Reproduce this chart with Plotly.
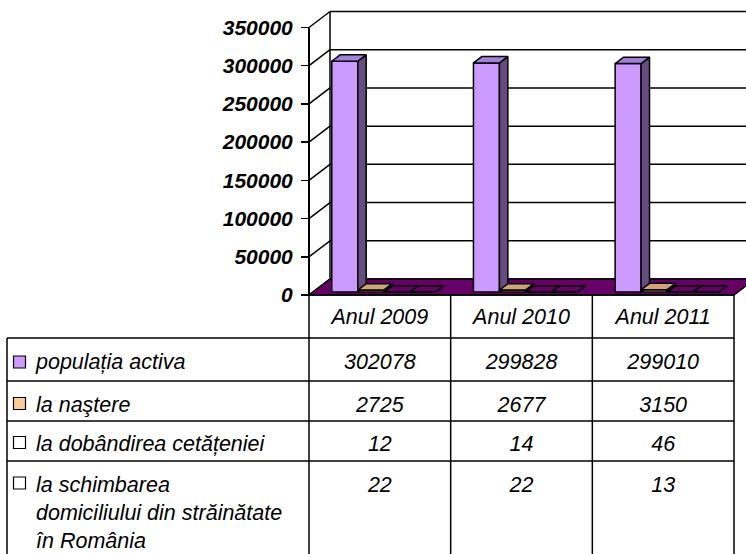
import plotly.graph_objects as go

# ---------------- data ----------------
categories = ["Anul 2009", "Anul 2010", "Anul 2011"]
series_names = [
    "populația activa",
    "la naştere",
    "la dobândirea cetățeniei",
    "la schimbarea<br>domiciliului din străinătate<br>în România",
]
populatia_activa = [302078, 299828, 299010]
la_nastere = [2725, 2677, 3150]
la_dobandire = [12, 14, 46]
la_schimbare = [22, 22, 13]
y_tick_values = [0, 50000, 100000, 150000, 200000, 250000, 300000, 350000]
y_tick_labels = ["0", "50000", "100000", "150000", "200000", "250000", "300000", "350000"]

series_values = [populatia_activa, la_nastere, la_dobandire, la_schimbare]

# ---------------- styles / layout constants ----------------
W, H = 746, 554
X0 = 309.0            # px of front-plane category start
CW = 141.67           # px per category
Y0 = 295.0            # px of value 0 on the front plane
PXV = 267.5 / 350000  # px per value unit
DX = 21.0 / CW        # wall depth, x units
DY = 16.0 / PXV       # wall depth, value units
GAP = 19.0 / CW
BW = 26.0 / CW
F0, F1 = 0.18, 0.58   # bar depth span (fraction of wall depth)
YMAX = y_tick_values[-1]
NCAT = len(categories)

FONT = "Liberation Sans, Arial, sans-serif"
front_colors = ["#CC99FF", "#FFCC99", "rgba(0,0,0,0)", "rgba(0,0,0,0)"]
side_colors = ["#664C80", "#806650", None, None]
top_colors = ["#A47FDB", "#CCA37A", None, None]
legend_colors = ["#CC99FF", "#FFCC99", "#FFFFFF", "#FFFFFF"]
LW = 1.5

fig = go.Figure()

# ---------------- walls and floor (shapes, below bars) ----------------
shapes = []
for v in y_tick_values:
    shapes.append(dict(type="line", xref="x", yref="y", layer="below",
                       x0=DX, y0=v + DY, x1=NCAT + DX, y1=v + DY,
                       line=dict(color="black", width=LW)))
    shapes.append(dict(type="line", xref="x", yref="y", layer="below",
                       x0=0, y0=v, x1=DX, y1=v + DY,
                       line=dict(color="black", width=LW)))
shapes.append(dict(type="line", xref="x", yref="y", layer="below",
                   x0=DX, y0=DY, x1=DX, y1=YMAX + DY,
                   line=dict(color="black", width=LW)))
shapes.append(dict(type="line", xref="x", yref="y", layer="below",
                   x0=0, y0=0, x1=0, y1=YMAX,
                   line=dict(color="black", width=2)))
floor_path = "M 0,0 L {a},0 L {b},{d} L {c},{d} Z".format(a=NCAT, b=NCAT + DX, c=DX, d=DY)
shapes.append(dict(type="path", xref="x", yref="y", layer="below", path=floor_path,
                   fillcolor="#660066", line=dict(color="black", width=LW)))


def P(x, v, f):
    return x + f * DX, v + f * DY


# ---------------- bars: front faces ----------------
for s, vals in enumerate(series_values):
    centers = [c + GAP + (s + 0.5) * BW + F0 * DX for c in range(NCAT)]
    fig.add_trace(go.Bar(
        x=centers, y=vals, base=F0 * DY, width=BW,
        marker=dict(color=front_colors[s], line=dict(color="black", width=LW)),
        xaxis="x", yaxis="y", hoverinfo="skip", showlegend=False))

# ---------------- bars: side and top faces ----------------
for s, vals in enumerate(series_values):
    side_x, side_y, top_x, top_y = [], [], [], []
    for c, v in enumerate(vals):
        x0 = c + GAP + s * BW
        x1 = x0 + BW
        for (xx, vv, ff) in [(x1, 0, F0), (x1, 0, F1), (x1, v, F1), (x1, v, F0), (x1, 0, F0)]:
            px, py = P(xx, vv, ff)
            side_x.append(px); side_y.append(py)
        side_x.append(None); side_y.append(None)
        for (xx, vv, ff) in [(x0, v, F0), (x1, v, F0), (x1, v, F1), (x0, v, F1), (x0, v, F0)]:
            px, py = P(xx, vv, ff)
            top_x.append(px); top_y.append(py)
        top_x.append(None); top_y.append(None)
    for xs, ys, col in [(side_x, side_y, side_colors[s]), (top_x, top_y, top_colors[s])]:
        fig.add_trace(go.Scatter(
            x=xs, y=ys, mode="lines",
            fill="toself" if col else "none",
            fillcolor=col if col else "rgba(0,0,0,0)",
            line=dict(color="black", width=LW),
            xaxis="x", yaxis="y", hoverinfo="skip", showlegend=False))

# ---------------- data table (second axes in px units) ----------------
LEFT = 7.0
col_edges = [X0 + i * CW for i in range(NCAT + 1)]
row_edges = [295.0, 338.0, 381.0, 421.0, 461.0, 556.0]
header_text_y = 316.0
row_text_y = [361.5, 404.0, 443.0, 484.7]   # cap-middle targets of first lines
square_y = [362.0, 403.5, 442.5, 483.0]
FS = 21.5

lx, ly = [], []
for yy in row_edges[1:-1]:
    lx += [LEFT, col_edges[-1], None]; ly += [yy, yy, None]
lx += [col_edges[0], col_edges[-1], None]; ly += [row_edges[0], row_edges[0], None]
for xx in col_edges:
    lx += [xx, xx, None]; ly += [row_edges[0], row_edges[-1], None]
lx += [LEFT, LEFT, None]; ly += [row_edges[1], row_edges[-1], None]
fig.add_trace(go.Scatter(x=lx, y=ly, mode="lines", line=dict(color="black", width=LW),
                         xaxis="x2", yaxis="y2", hoverinfo="skip", showlegend=False))

col_centers = [(col_edges[i] + col_edges[i + 1]) / 2 for i in range(NCAT)]
fig.add_trace(go.Scatter(
    x=col_centers, y=[header_text_y + 0.108 * FS] * NCAT, mode="text", text=categories,
    textposition="middle center",
    textfont=dict(family=FONT, size=FS, color="black", style="italic"),
    xaxis="x2", yaxis="y2", hoverinfo="skip", showlegend=False))

nlines = [n.count("<br>") + 1 for n in series_names]
label_y = [row_text_y[i] + 0.108 * FS + (nlines[i] - 1) * 1.3 * FS / 2 for i in range(4)]
fig.add_trace(go.Scatter(
    x=[36.0] * 4, y=label_y, mode="text", text=series_names,
    textposition="middle right",
    textfont=dict(family=FONT, size=FS, color="black", style="italic"),
    xaxis="x2", yaxis="y2", hoverinfo="skip", showlegend=False))

fig.add_trace(go.Scatter(
    x=[19.5] * 4, y=square_y, mode="markers",
    marker=dict(symbol="square", size=12, color=legend_colors,
                line=dict(color="black", width=1.2)),
    xaxis="x2", yaxis="y2", hoverinfo="skip", showlegend=False))

vx, vy, vt = [], [], []
for r, vals in enumerate(series_values):
    for c, v in enumerate(vals):
        vx.append(col_centers[c]); vy.append(row_text_y[r] + 0.108 * FS); vt.append(str(v))
fig.add_trace(go.Scatter(
    x=vx, y=vy, mode="text", text=vt, textposition="middle center",
    textfont=dict(family=FONT, size=FS, color="black", style="italic"),
    xaxis="x2", yaxis="y2", hoverinfo="skip", showlegend=False))

fig.update_layout(
    width=W, height=H, margin=dict(l=0, r=0, t=0, b=0),
    paper_bgcolor="white", plot_bgcolor="rgba(0,0,0,0)",
    showlegend=False, barmode="overlay", shapes=shapes, hovermode=False,
    xaxis=dict(domain=[0, 1], range=[-X0 / CW, (W - X0) / CW], visible=False, fixedrange=True),
    yaxis=dict(domain=[0, 1], range=[-(H - Y0) / PXV, Y0 / PXV],
               anchor="free", position=X0 / W, side="left",
               tickvals=y_tick_values, ticktext=y_tick_labels,
               ticks="outside", ticklen=8, tickwidth=1.5, tickcolor="black",
               ticklabelstandoff=4,
               showgrid=False, zeroline=False, showline=False,
               tickfont=dict(family=FONT, size=21, color="black", weight="bold", style="italic")),
    xaxis2=dict(domain=[0, 1], range=[0, W], visible=False, anchor="y2"),
    yaxis2=dict(domain=[0, 1], range=[H, 0], visible=False, anchor="x2"),
)

fig.write_html(
    "out.html",
    config={"displayModeBar": False, "staticPlot": True},
    post_script="document.body.style.margin='0px';document.body.style.overflow='hidden';",
)
